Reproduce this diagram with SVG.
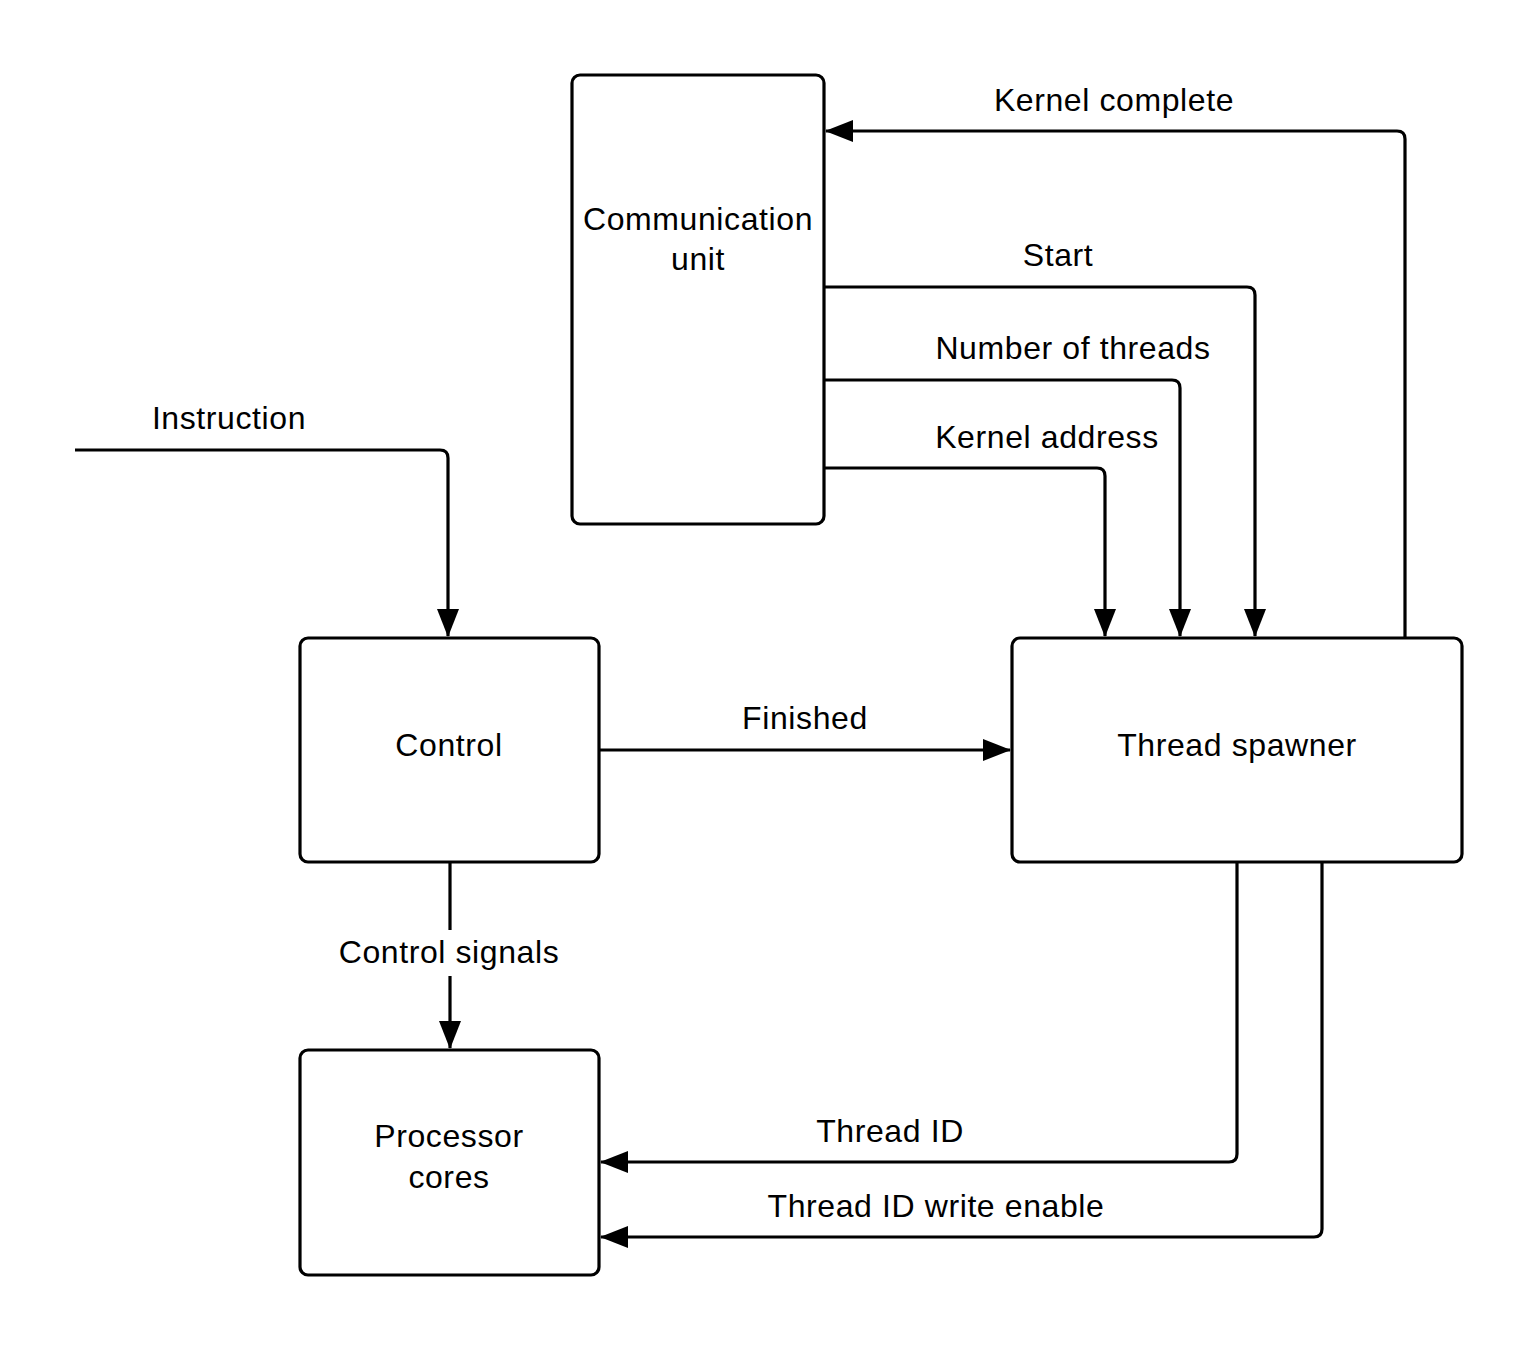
<svg xmlns="http://www.w3.org/2000/svg" width="1538" height="1350" viewBox="0 0 1538 1350">
<style>
.box{fill:#fff;stroke:#000;stroke-width:3.2}
.ln{fill:none;stroke:#000;stroke-width:3.2;stroke-linejoin:round}
text{font-family:"Liberation Sans",Arial,sans-serif;font-size:32px;letter-spacing:0.6px;fill:#000;text-anchor:middle}
</style>
<defs>
<marker id="ah" markerUnits="userSpaceOnUse" markerWidth="28" markerHeight="24" refX="27" refY="11" orient="auto">
<path d="M0,0 L28,11 L0,22 Z" fill="#000"/>
</marker>
</defs>
<rect width="1538" height="1350" fill="#fff"/>
<g id="connectors">
<path class="ln" d="M1405,638 V139 Q1405,131 1397,131 H826" marker-end="url(#ah)"/>
<path class="ln" d="M824,287 H1247 Q1255,287 1255,295 V636" marker-end="url(#ah)"/>
<path class="ln" d="M824,380 H1172 Q1180,380 1180,388 V636" marker-end="url(#ah)"/>
<path class="ln" d="M824,468 H1097 Q1105,468 1105,476 V636" marker-end="url(#ah)"/>
<path class="ln" d="M75,450 H440 Q448,450 448,458 V636" marker-end="url(#ah)"/>
<path class="ln" d="M599,750 H1010" marker-end="url(#ah)"/>
<path class="ln" d="M450,862 V1048" marker-end="url(#ah)"/>
<path class="ln" d="M1237,862 V1154 Q1237,1162 1229,1162 H601" marker-end="url(#ah)"/>
<path class="ln" d="M1322,862 V1229 Q1322,1237 1314,1237 H601" marker-end="url(#ah)"/>
<rect x="330" y="930" width="240" height="46" fill="#fff"/>
</g>
<g id="labels">
<text x="1114" y="111">Kernel complete</text>
<text x="1058" y="266">Start</text>
<text x="1073" y="359">Number of threads</text>
<text x="1047" y="448">Kernel address</text>
<text x="229" y="429">Instruction</text>
<text x="805" y="729">Finished</text>
<text x="449" y="963">Control signals</text>
<text x="890" y="1142">Thread ID</text>
<text x="936" y="1217">Thread ID write enable</text>
</g>
<g id="comm">
<rect class="box" x="572" y="75" width="252" height="449" rx="8"/>
<text x="698" y="230">Communication</text>
<text x="698" y="270">unit</text>
</g>
<g id="control">
<rect class="box" x="300" y="638" width="299" height="224" rx="8"/>
<text x="449" y="756">Control</text>
</g>
<g id="spawner">
<rect class="box" x="1012" y="638" width="450" height="224" rx="8"/>
<text x="1237" y="756">Thread spawner</text>
</g>
<g id="cores">
<rect class="box" x="300" y="1050" width="299" height="225" rx="8"/>
<text x="449" y="1147">Processor</text>
<text x="449" y="1188">cores</text>
</g>
</svg>
